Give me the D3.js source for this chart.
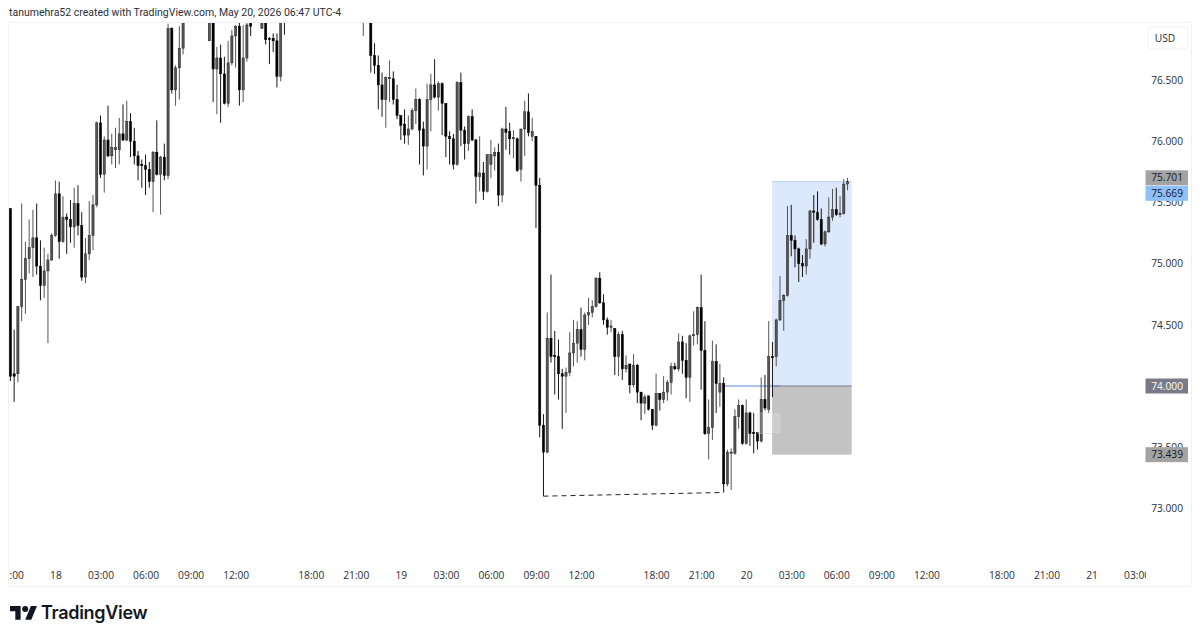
<!DOCTYPE html>
<html lang="en">
<head>
<meta charset="UTF-8">
<title>TradingView chart</title>
<script src="https://d3js.org/d3.v7.min.js"></script>
<style>
  html, body { margin: 0; padding: 0; background: #fff; }
  svg { display: block; }
  text { font-family: "Open Sans", Arial, sans-serif; fill: #131722; }
  .axis text { font-size: 10.2px; fill: #2a2e39; }
  .axis .domain, .axis line { display: none; }
</style>
</head>
<body>
<svg width="1200" height="639"></svg>
<script>
// 15 minute bars. Bars that run above the top edge are estimates.
const opens = [
  75.45,74.10,74.10,74.65,74.87,75.04,75.13,75.21,74.98,74.82,
  74.94,75.03,75.23,75.57,75.18,75.38,75.36,75.30,75.49,75.31,
  74.89,75.08,75.23,75.48,76.15,75.73,76.01,75.88,75.93,75.93,
  76.06,76.01,76.16,76.00,75.88,75.81,75.80,75.77,75.67,75.91,
  75.73,75.87,75.72,76.92,76.42,76.60,76.76,77.05,77.20,77.15,
  77.30,77.20,77.15,76.82,77.10,76.59,76.68,76.55,76.31,76.64,
  76.86,76.94,76.42,76.68,76.96,77.05,77.15,76.92,77.10,76.84,
  76.84,76.82,76.53,77.20,77.05,77.20,77.30,77.45,77.36,77.42,
  77.55,77.48,77.58,77.52,77.40,77.50,77.38,77.28,77.36,77.24,
  77.30,77.22,77.14,77.20,77.10,77.15,77.10,76.70,76.62,76.46,
  76.34,76.51,76.51,76.34,76.21,76.14,76.05,76.10,76.25,76.34,
  76.10,75.96,76.34,76.46,76.36,76.47,76.31,76.04,76.02,75.81,
  76.48,76.09,75.98,76.20,76.01,75.71,75.74,75.59,75.81,75.88,
  75.91,75.56,76.10,76.08,76.02,76.02,75.77,76.10,76.24,76.04,
  76.04,75.64,73.68,73.46,74.39,74.25,74.24,74.10,74.08,74.11,
  74.27,74.35,74.46,74.30,74.58,74.60,74.65,74.88,74.68,74.54,
  74.48,74.47,74.24,74.42,74.14,74.18,74.01,74.17,73.95,73.86,
  73.92,73.81,73.68,73.94,73.89,73.95,74.03,74.16,74.14,74.36,
  74.21,74.07,74.41,74.42,74.64,74.29,73.61,73.66,74.20,73.95,
  74.02,73.20,73.45,73.45,73.75,73.84,73.53,73.78,73.62,73.62,
  73.55,73.89,73.81,74.24,74.24,74.54,74.70,74.74,75.23,75.19,
  75.12,75.00,74.98,75.12,75.43,75.42,75.36,75.16,75.26,75.38,
  75.44,75.40,75.41,75.65
];
const highs = [
  75.45,74.46,74.65,75.49,75.18,75.36,75.44,75.49,75.19,75.13,
  75.08,75.25,75.68,75.67,75.55,75.41,75.52,75.62,75.64,75.42,
  75.21,75.51,75.56,76.16,76.21,76.04,76.29,76.06,76.11,76.19,
  76.30,76.33,76.23,76.11,75.92,75.85,75.89,75.83,75.92,76.17,
  75.88,75.98,76.96,76.93,76.62,76.94,77.10,77.25,77.35,77.40,
  77.45,77.30,77.25,77.20,77.15,76.77,76.79,76.69,76.82,76.91,
  76.95,76.97,76.95,76.97,77.05,77.20,77.30,77.20,77.15,76.85,
  76.88,76.88,77.10,77.30,77.25,77.38,77.52,77.58,77.50,77.60,
  77.70,77.62,77.72,77.60,77.55,77.58,77.46,77.44,77.42,77.34,
  77.40,77.28,77.26,77.24,77.20,77.30,77.15,76.80,76.70,76.56,
  76.53,76.66,76.57,76.46,76.21,76.26,76.21,76.27,76.43,76.35,
  76.16,76.47,76.55,76.67,76.49,76.48,76.31,76.08,76.06,76.49,
  76.56,76.12,76.21,76.26,76.02,76.04,75.83,75.89,76.01,75.95,
  75.98,76.11,76.28,76.15,76.09,76.03,76.10,76.33,76.39,76.19,
  76.04,75.70,73.77,74.60,74.91,74.45,74.38,74.14,74.15,74.44,
  74.54,74.53,74.64,74.60,74.72,74.70,74.89,74.93,74.75,74.56,
  74.54,74.47,74.44,74.45,74.25,74.18,74.26,74.18,73.95,73.93,
  73.92,73.81,74.10,73.94,74.08,74.05,74.19,74.19,74.43,74.41,
  74.35,74.42,74.61,74.65,74.91,74.53,73.89,74.37,74.34,74.18,
  74.07,73.48,73.49,73.81,73.89,73.85,73.89,73.79,73.78,73.62,
  74.07,74.09,74.53,74.36,74.55,74.90,74.75,75.47,75.48,75.23,
  75.13,75.07,75.20,75.44,75.56,75.59,75.45,75.27,75.54,75.61,
  75.62,75.55,75.69,75.70
];
const lows = [
  74.04,73.87,74.03,74.53,74.59,74.92,74.89,74.91,74.70,74.72,
  74.35,75.02,75.22,75.04,75.17,75.08,75.17,75.13,75.23,74.86,
  74.84,75.03,75.11,75.46,75.70,75.58,75.87,75.81,75.78,75.81,
  76.00,76.00,75.87,75.81,75.68,75.62,75.56,75.62,75.42,75.72,
  75.40,75.68,75.69,76.39,76.29,76.34,76.71,77.02,77.10,77.10,
  77.15,77.05,77.05,76.82,76.32,76.22,76.15,76.30,76.28,76.62,
  76.60,76.29,76.32,76.65,76.86,77.00,77.05,76.92,76.79,76.63,
  76.73,76.44,76.49,76.87,77.02,77.12,77.24,77.30,77.28,77.35,
  77.40,77.38,77.50,77.36,77.32,77.34,77.22,77.20,77.18,77.12,
  77.16,77.08,77.04,77.06,76.86,77.02,76.56,76.55,76.26,76.20,
  76.11,76.32,76.30,76.18,76.01,75.98,75.97,76.09,76.14,75.81,
  75.72,75.77,76.08,76.35,76.25,76.05,75.87,75.81,75.77,75.80,
  75.96,75.85,75.92,76.00,75.49,75.59,75.52,75.58,75.70,75.76,
  75.47,75.50,75.93,75.89,75.86,75.75,75.67,75.88,76.04,76.00,
  75.29,73.58,73.10,73.45,74.19,73.93,73.89,73.65,73.78,74.08,
  74.16,74.19,74.24,74.21,74.50,74.56,74.64,74.67,74.50,74.42,
  74.44,74.09,74.08,74.05,74.11,73.94,73.99,73.86,73.72,73.77,
  73.80,73.64,73.67,73.80,73.86,73.88,73.93,74.13,74.12,74.10,
  73.90,73.87,74.33,74.34,73.97,73.60,73.40,73.56,73.78,73.83,
  73.13,73.18,73.15,73.44,73.65,73.52,73.52,73.51,73.45,73.48,
  73.54,73.80,73.78,73.91,74.16,74.53,74.45,74.73,75.06,74.97,
  74.85,74.89,74.91,75.04,75.17,75.35,75.15,75.14,75.25,75.35,
  75.39,75.38,75.40,75.60
];
const closes = [
  74.08,74.08,74.65,74.87,75.04,75.13,75.21,74.98,74.82,74.94,
  75.03,75.23,75.57,75.18,75.38,75.36,75.30,75.49,75.31,74.89,
  75.08,75.23,75.48,76.15,75.73,76.01,75.88,75.95,75.95,76.06,
  76.01,76.16,76.00,75.88,75.80,75.80,75.77,75.67,75.91,75.73,
  75.87,75.72,76.92,76.42,76.60,76.76,77.05,77.20,77.15,77.30,
  77.20,77.15,77.10,77.10,76.59,76.68,76.55,76.31,76.64,76.86,
  76.94,76.42,76.68,76.95,76.94,77.15,77.10,77.10,76.83,76.83,
  76.82,76.53,77.05,77.05,77.20,77.30,77.45,77.36,77.42,77.55,
  77.48,77.58,77.52,77.40,77.50,77.38,77.28,77.36,77.24,77.30,
  77.22,77.14,77.20,77.10,77.15,77.10,76.70,76.62,76.46,76.34,
  76.52,76.52,76.34,76.21,76.13,76.05,76.10,76.25,76.34,76.09,
  75.96,76.34,76.46,76.36,76.47,76.31,76.04,76.02,75.81,76.48,
  76.09,75.98,76.20,76.01,75.71,75.74,75.59,75.89,75.89,75.91,
  75.56,76.10,76.07,76.02,76.03,75.76,76.10,76.24,76.07,76.08,
  75.64,73.68,73.46,74.39,74.24,74.24,74.10,74.08,74.11,74.27,
  74.35,74.46,74.30,74.58,74.60,74.65,74.88,74.68,74.54,74.48,
  74.49,74.24,74.42,74.14,74.17,74.01,74.17,73.95,73.86,73.91,
  73.81,73.68,73.94,73.89,73.95,74.03,74.16,74.14,74.36,74.21,
  74.07,74.41,74.42,74.64,74.29,73.61,73.66,74.20,74.02,74.02,
  73.20,73.46,73.46,73.75,73.84,73.53,73.78,73.61,73.61,73.55,
  73.89,73.82,74.24,74.23,74.54,74.70,74.74,75.23,75.19,75.12,
  75.00,74.98,75.12,75.43,75.42,75.36,75.16,75.26,75.38,75.44,
  75.40,75.41,75.65,75.669
];

const priceTicks = [76.5, 76, 75.5, 75, 74.5, 74, 73.5, 73];
// bar index of each time label, and the label itself
const timeTickBars = [0, 12, 24, 36, 48, 60, 80, 92, 104, 116, 128, 140, 152, 172, 184, 196, 208, 220, 232, 244, 264, 276, 288, 300];
const timeTickLabels = ["21:00", "18", "03:00", "06:00", "09:00", "12:00", "18:00", "21:00", "19", "03:00", "06:00", "09:00", "12:00", "18:00", "21:00", "20", "03:00", "06:00", "09:00", "12:00", "18:00", "21:00", "21", "03:00"];
const dayLabels = ["18", "19", "20", "21"];

// long position drawing
const entryPrice = 74.0, targetPrice = 75.669, stopPrice = 73.439;
const boxStartBar = 202.9, boxEndBar = 224.1, entryLineStartBar = 189.9, entryLineEndBar = 204.9;
const lastPrice = 75.669, targetLabel = 75.701;
// dashed trend line, bar index and price at both ends
const trendBars = [142, 190], trendPrices = [73.10, 73.13];

const x = d3.scaleLinear().domain([0, 1]).range([10.4, 14.154]);
const y = d3.scaleLinear().domain([73, 76.5]).range([508.4, 80]);

const svg = d3.select("svg");
const defs = svg.append("defs");
defs.append("clipPath").attr("id", "plot").append("rect")
  .attr("x", 9).attr("y", 23).attr("width", 1137).attr("height", 563);
defs.append("clipPath").attr("id", "timeclip").append("rect")
  .attr("x", 8).attr("y", 560).attr("width", 1138).attr("height", 26);

// frame
svg.append("path")
  .attr("d", "M8.5,586.5V22.5H1191.5V586.5H8.5")
  .attr("fill", "none").attr("stroke", "#eff1f5").attr("stroke-width", 1);

svg.append("text").attr("x", 9).attr("y", 15.5)
  .style("font-family", "Roboto, Arial, sans-serif")
  .style("font-size", "10.5px").style("fill", "#2a2e39")
  .text("tanumehra52 created with TradingView.com, May 20, 2026 06:47 UTC-4");

const plot = svg.append("g").attr("clip-path", "url(#plot)");

// position boxes go under the candles
plot.append("rect")
  .attr("x", x(boxStartBar)).attr("y", y(targetPrice))
  .attr("width", x(boxEndBar) - x(boxStartBar)).attr("height", y(entryPrice) - y(targetPrice))
  .attr("fill", "#dce9fc");
plot.append("rect")
  .attr("x", x(boxStartBar)).attr("y", y(entryPrice))
  .attr("width", x(boxEndBar) - x(boxStartBar)).attr("height", y(stopPrice) - y(entryPrice))
  .attr("fill", "#c3c3c3");
plot.append("line")
  .attr("x1", x(boxStartBar)).attr("x2", x(boxEndBar))
  .attr("y1", y(targetPrice)).attr("y2", y(targetPrice))
  .attr("stroke", "#b5d0f4");
plot.append("line")
  .attr("x1", x(boxStartBar)).attr("x2", x(boxEndBar))
  .attr("y1", y(entryPrice)).attr("y2", y(entryPrice))
  .attr("stroke", "#787b86");
plot.append("line")
  .attr("x1", x(entryLineStartBar)).attr("x2", x(entryLineEndBar))
  .attr("y1", y(entryPrice)).attr("y2", y(entryPrice))
  .attr("stroke", "#5b83d8");

const bars = d3.range(opens.length);
const isUp = i => closes[i] >= opens[i];

plot.selectAll("line.wick")
  .data(bars)
  .enter().append("line")
  .attr("class", "wick")
  .attr("x1", i => x(i)).attr("x2", i => x(i))
  .attr("y1", i => y(highs[i])).attr("y2", i => y(lows[i]))
  .attr("stroke", i => isUp(i) ? "#555" : "#151515")
  .attr("stroke-width", 1);

plot.selectAll("rect.body")
  .data(bars)
  .enter().append("rect")
  .attr("class", "body")
  .attr("x", i => x(i) - 1.1)
  .attr("width", 2.2)
  .attr("y", i => y(Math.max(opens[i], closes[i])))
  .attr("height", i => Math.max(1, Math.abs(y(opens[i]) - y(closes[i]))))
  .attr("fill", i => isUp(i) ? "#555" : "#000")
  .attr("stroke", i => isUp(i) ? "#222" : "#000")
  .attr("stroke-width", 0.5);

// faded drag handle box
plot.append("rect")
  .attr("x", x(199.1)).attr("width", x(205.2) - x(199.1))
  .attr("y", y(73.78)).attr("height", y(73.61) - y(73.78))
  .attr("fill", "rgba(240,240,240,0.25)")
  .attr("stroke", "rgba(200,200,200,0.6)").attr("stroke-width", 0.6);

plot.append("line")
  .attr("x1", x(trendBars[0])).attr("x2", x(trendBars[1]))
  .attr("y1", y(trendPrices[0])).attr("y2", y(trendPrices[1]))
  .attr("stroke", "#222").attr("stroke-width", 1).attr("stroke-dasharray", "5 4");

// price axis, the tag labels below sit on top of it
svg.append("g").attr("class", "axis")
  .attr("transform", "translate(1183,0)")
  .call(d3.axisLeft(y).tickValues(priceTicks).tickFormat(d3.format(".3f")).tickSize(0).tickPadding(0));

// time axis
const timeAxis = svg.append("g").attr("clip-path", "url(#timeclip)").append("g")
  .attr("class", "axis")
  .attr("transform", "translate(0,571.5)")
  .call(d3.axisBottom(x).tickValues(timeTickBars)
    .tickFormat(d => timeTickLabels[timeTickBars.indexOf(d)]).tickSize(0).tickPadding(0));
timeAxis.selectAll("text")
  .style("font-weight", d => dayLabels.includes(timeTickLabels[timeTickBars.indexOf(d)]) ? 500 : 400);

// USD button
svg.append("rect")
  .attr("x", 1148).attr("y", 27).attr("width", 40).attr("height", 22).attr("rx", 4)
  .attr("fill", "#fff").attr("stroke", "#eff1f5");
svg.append("text").attr("x", 1165).attr("y", 42).attr("text-anchor", "middle")
  .style("font-size", "10.2px").style("fill", "#2a2e39").text("USD");

// price tags
function priceTag(cy, label, bg, fg) {
  svg.append("rect")
    .attr("x", 1145.5).attr("y", cy - 7.5).attr("width", 42.5).attr("height", 15)
    .attr("fill", bg);
  svg.append("text")
    .attr("x", 1183).attr("y", cy + 3.7).attr("text-anchor", "end")
    .style("font-size", "10.2px").style("fill", fg)
    .text(label);
}
const fmt = d3.format(".3f");
priceTag(y(targetLabel), fmt(targetLabel), "#a3a3a3", "#131722");
priceTag(y(targetLabel) + 15.5, fmt(lastPrice), "#90bff9", "#131722");
priceTag(y(entryPrice), fmt(entryPrice), "#787b86", "#fff");
priceTag(y(stopPrice), fmt(stopPrice), "#a3a3a3", "#131722");

// logo and wordmark
const logo = svg.append("g").attr("transform", "translate(10,603) scale(0.76)");
logo.append("path").attr("d", "M14 22H7V11H0V4h14v18zM28 22h-8l7.5-18h8L28 22z").attr("fill", "#131722");
logo.append("circle").attr("cx", 20).attr("cy", 8).attr("r", 4).attr("fill", "#131722");
svg.append("text").attr("x", 41).attr("y", 619)
  .style("font-family", "Inter, Roboto, sans-serif")
  .style("font-size", "18px").style("font-weight", 600).style("letter-spacing", "-0.3px")
  .text("TradingView");
</script>
</body>
</html>
